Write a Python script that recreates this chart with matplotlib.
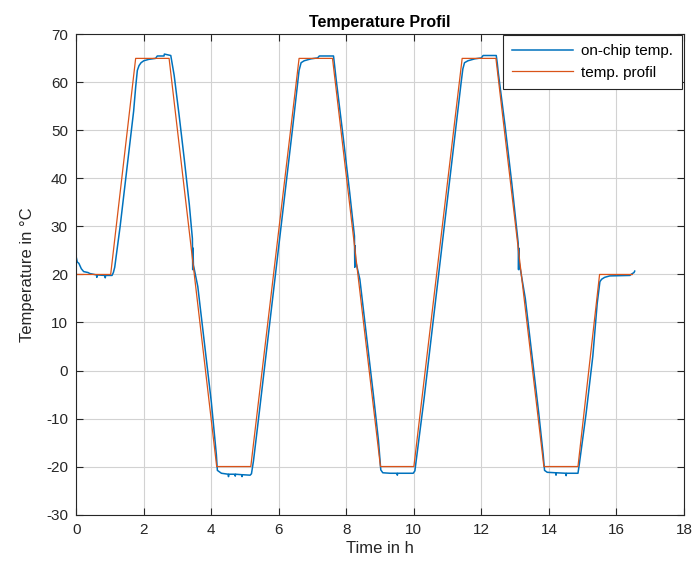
import matplotlib.pyplot as plt

plt.rcParams['font.family'] = ['Liberation Sans', 'DejaVu Sans']
plt.rcParams['axes.unicode_minus'] = False

# temp. profil (corner points)
t_profil = [0, 1.02, 1.76, 2.75, 4.16, 5.17, 6.60, 7.59, 9.01, 10.0, 11.43, 12.43, 13.85, 14.86, 15.5, 16.47]
T_profil = [20, 20, 65, 65, -20, -20, 65, 65, -20, -20, 65, 65, -20, -20, 20, 20]

# on-chip temp.
t_chip = [0.00, 0.03, 0.08, 0.15, 0.22, 0.35, 0.40, 0.60, 0.61, 0.62, 0.85, 0.86, 0.87, 1.06, 1.10, 1.14,
          1.30, 1.50, 1.70, 1.76, 1.81, 1.86, 1.92, 2.00, 2.15, 2.35, 2.40, 2.60, 2.61, 2.80, 2.84, 2.90,
          3.05, 3.20, 3.35, 3.44, 3.45, 3.46, 3.47, 3.60, 3.80, 4.00, 4.15, 4.18, 4.30, 4.50, 4.51, 4.52,
          4.70, 4.71, 4.72, 4.90, 4.91, 4.92, 5.15, 5.19, 5.25, 5.40, 5.60, 5.80, 6.00, 6.20, 6.40, 6.55,
          6.60, 6.66, 6.75, 6.95, 7.15, 7.20, 7.62, 7.66, 7.70, 7.90, 8.10, 8.24, 8.25, 8.26, 8.27, 8.40,
          8.60, 8.80, 8.95, 9.02, 9.08, 9.30, 9.50, 9.51, 9.52, 9.98, 10.03, 10.10, 10.30, 10.50, 10.70, 10.90,
          11.10, 11.30, 11.40, 11.45, 11.50, 11.60, 11.80, 12.00, 12.05, 12.44, 12.47, 12.50, 12.70, 12.90, 13.09, 13.10,
          13.11, 13.12, 13.30, 13.50, 13.70, 13.83, 13.87, 13.95, 14.20, 14.21, 14.22, 14.50, 14.51, 14.52, 14.86, 14.90,
          15.10, 15.30, 15.43, 15.51, 15.56, 15.65, 15.80, 16.40, 16.45, 16.52, 16.54]
T_chip = [23.6, 22.6, 22.3, 21.2, 20.6, 20.4, 20.2, 19.9, 19.4, 19.9, 19.8, 19.3, 19.8, 19.8, 20.4, 21.5,
          30.0, 42.0, 54.0, 59.0, 62.5, 63.5, 64.1, 64.5, 64.8, 65.0, 65.5, 65.5, 65.9, 65.6, 64.0, 61.5,
          53.0, 44.0, 34.5, 27.5, 21.0, 25.5, 22.0, 17.5, 5.5, -6.5, -17.5, -20.8, -21.4, -21.6, -22.1, -21.6,
          -21.6, -22.0, -21.6, -21.7, -22.1, -21.7, -21.8, -21.5, -18.8, -10.0, 2.0, 14.0, 26.0, 38.0, 50.0, 59.5,
          62.5, 64.1, 64.5, 64.9, 65.1, 65.5, 65.5, 63.0, 60.5, 49.0, 37.0, 28.0, 21.5, 26.0, 23.0, 19.0,
          7.0, -5.0, -14.5, -20.7, -21.3, -21.4, -21.4, -21.8, -21.4, -21.4, -20.9, -17.0, -6.0, 6.0, 18.0, 30.0,
          42.0, 54.0, 60.0, 62.8, 64.1, 64.5, 64.9, 65.1, 65.6, 65.6, 64.0, 62.0, 51.0, 39.0, 26.5, 21.0,
          25.5, 22.5, 15.0, 3.0, -9.0, -17.5, -20.8, -21.2, -21.3, -21.8, -21.3, -21.4, -21.9, -21.4, -21.4, -19.5,
          -9.0, 3.0, 14.0, 18.5, 19.0, 19.4, 19.7, 19.8, 20.1, 20.4, 20.7]

x_ticks = list(range(0, 19, 2))
y_ticks = list(range(-30, 71, 10))

fig = plt.figure(figsize=(6.93, 5.73), dpi=100)
ax = fig.add_axes([0.110, 0.102, 0.877, 0.838])

ax.plot(t_chip, T_chip, color='#0072BD', lw=1.1, label='on-chip temp.')
ax.plot(t_profil, T_profil, color='#D95319', lw=0.9, label='temp. profil')

ax.set_xlim(0, 18)
ax.set_ylim(-30, 70)
ax.set_xticks(x_ticks)
ax.set_yticks(y_ticks)
ax.grid(True, color='#d2d2d2', lw=0.8)
ax.set_axisbelow(True)
ax.tick_params(direction='in', top=True, right=True, length=5, width=0.8,
               labelsize=11, colors='#262626', pad=6)
for s in ax.spines.values():
    s.set_color('#262626')
    s.set_linewidth(0.8)

ax.set_title('Temperature Profil', fontsize=11.5, fontweight='bold', pad=5)
ax.set_xlabel('Time in h', fontsize=12, color='#262626', labelpad=3)
ax.set_ylabel('Temperature in °C', fontsize=12, color='#262626', labelpad=8)

leg = ax.legend(loc='upper right', bbox_to_anchor=(0.997, 0.999), borderaxespad=0, fancybox=False,
                fontsize=11, handlelength=4, handletextpad=0.5, labelspacing=0.5, borderpad=0.6)
leg.get_frame().set_edgecolor('#262626')
leg.get_frame().set_linewidth(0.8)
leg.get_frame().set_alpha(1)

plt.savefig('out.png', dpi=100)
